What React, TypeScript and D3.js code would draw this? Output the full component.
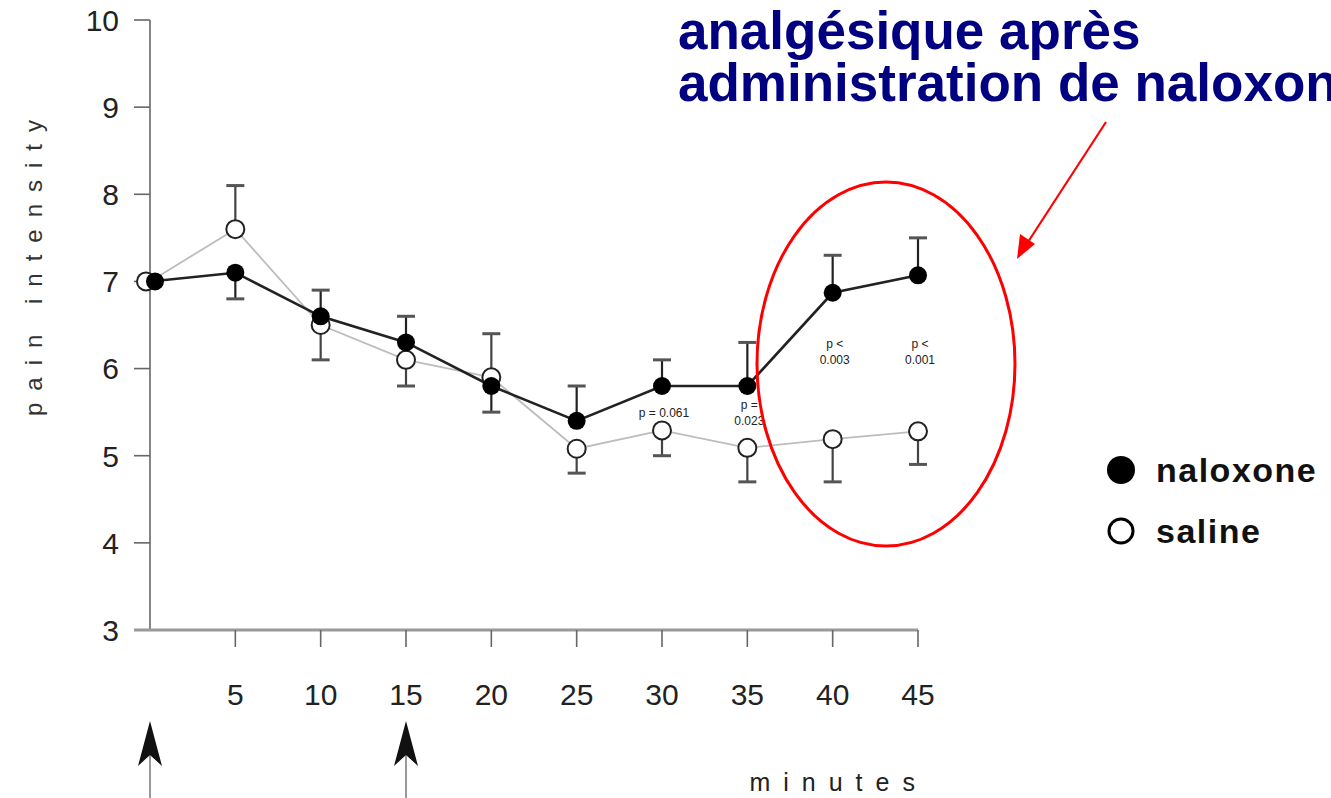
import React from "react";
import * as d3 from "d3";

// Time points (minutes) and mean pain-intensity scores
const minutes = [0, 5, 10, 15, 20, 25, 30, 35, 40, 45];
const naloxone = [7.0, 7.1, 6.6, 6.3, 5.8, 5.4, 5.8, 5.8, 6.87, 7.07];
const saline = [7.0, 7.6, 6.5, 6.1, 5.9, 5.08, 5.29, 5.09, 5.19, 5.28];
// End value of the one-sided error bar drawn for each point (null = none)
const naloxoneBar = [null, 6.8, 6.9, 6.6, 5.5, 5.8, 6.1, 6.3, 7.3, 7.5];
const salineBar = [null, 8.1, 6.1, 5.8, 6.4, 4.8, 5.0, 4.7, 4.7, 4.9];

const yTicks = [3, 4, 5, 6, 7, 8, 9, 10];
const xTicks = [5, 10, 15, 20, 25, 30, 35, 40, 45];
const injectionTimes = [0, 15];

// Significance notes placed over selected time points (v = value level of first line)
const pNotes = [
  { t: 30, lines: ["p = 0.061"], v: 5.44 },
  { t: 35, lines: ["p    =", "0.023"], v: 5.54 },
  { t: 40, lines: ["p    <", "0.003"], v: 6.24 },
  { t: 45, lines: ["p    <", "0.001"], v: 6.24 },
];

const titleLines = ["analgésique après", "administration de naloxone"];
const legendItems = [
  { label: "naloxone", filled: true },
  { label: "saline", filled: false },
];

const W = 1331;
const H = 798;
const SANS = "'Liberation Sans', Arial, Helvetica, sans-serif";

export default function App() {
  const x = d3.scaleLinear().domain([0, 45]).range([150, 918]);
  const y = d3.scaleLinear().domain([3, 10]).range([630, 20]);

  const line = d3
    .line<number>()
    .x((_, i) => x(minutes[i]))
    .y((d) => y(d));

  const bars = (vals: number[], ends: (number | null)[], color: string) =>
    vals.map((v, i) => {
      const e = ends[i];
      if (e == null) return null;
      const cx = x(minutes[i]);
      return (
        <g key={i}>
          <line x1={cx} x2={cx} y1={y(v)} y2={y(e)} stroke={color} strokeWidth={2.2} />
          <line x1={cx - 9} x2={cx + 9} y1={y(e)} y2={y(e)} stroke="#555" strokeWidth={3} />
        </g>
      );
    });

  return (
    <svg
      width={W}
      height={H}
      viewBox={`0 0 ${W} ${H}`}
      style={{ position: "absolute", left: 0, top: 0, background: "#fff" }}
    >
      <rect width={W} height={H} fill="#fff" />

      {/* title */}
      <g fill="#000080" fontFamily={SANS} fontWeight="bold" fontSize={53}>
        {titleLines.map((t, i) => (
          <text key={i} x={678} y={49 + i * 52}>
            {t}
          </text>
        ))}
      </g>

      {/* y axis */}
      <line x1={x(0)} x2={x(0)} y1={y(10)} y2={y(3)} stroke="#666" strokeWidth={1.6} />
      {yTicks.map((t) => (
        <g key={t}>
          <line x1={x(0) - 16} x2={x(0)} y1={y(t)} y2={y(t)} stroke="#666" strokeWidth={1.6} />
          <text
            x={119}
            y={y(t)}
            dy="0.36em"
            textAnchor="end"
            fontFamily={SANS}
            fontSize={30}
            fill="#222"
          >
            {t}
          </text>
        </g>
      ))}
      <text
        transform={`translate(42, 262) rotate(-90)`}
        textAnchor="middle"
        fontFamily={SANS}
        fontSize={24}
        letterSpacing={12}
        fill="#333"
      >
        pain intensity
      </text>

      {/* x axis */}
      <line x1={x(0) - 16} x2={x(45)} y1={y(3)} y2={y(3)} stroke="#999" strokeWidth={3} />
      {xTicks.map((t) => (
        <g key={t}>
          <line x1={x(t)} x2={x(t)} y1={y(3)} y2={y(3) + 17} stroke="#666" strokeWidth={1.6} />
          <text
            x={x(t)}
            y={705}
            textAnchor="middle"
            fontFamily={SANS}
            fontSize={30}
            fill="#222"
          >
            {t}
          </text>
        </g>
      ))}
      <text
        x={x(40) + 6}
        y={791}
        textAnchor="middle"
        fontFamily={SANS}
        fontSize={25}
        letterSpacing={13}
        fill="#222"
      >
        minutes
      </text>

      {/* injection arrows */}
      {injectionTimes.map((t) => {
        const cx = x(t);
        return (
          <g key={t}>
            <line x1={cx} x2={cx} y1={750} y2={798} stroke="#777" strokeWidth={1.5} />
            <path
              d={`M${cx},721 L${cx + 12},766 L${cx},755 L${cx - 12},766 Z`}
              fill="#111"
            />
          </g>
        );
      })}

      {/* saline series */}
      <path d={line(saline) ?? ""} fill="none" stroke="#bdbdbd" strokeWidth={1.8} />
      {bars(saline, salineBar, "#444")}

      {/* naloxone series */}
      <path d={line(naloxone) ?? ""} fill="none" stroke="#222" strokeWidth={2.6} />
      {bars(naloxone, naloxoneBar, "#222")}

      {saline.map((v, i) => (
        <circle
          key={i}
          cx={x(minutes[i]) - (i === 0 ? 4 : 0)}
          cy={y(v)}
          r={9}
          fill="#fff"
          stroke="#222"
          strokeWidth={2}
        />
      ))}
      {naloxone.map((v, i) => (
        <circle
          key={i}
          cx={x(minutes[i]) + (i === 0 ? 5 : 0)}
          cy={y(v)}
          r={9}
          fill="#000"
        />
      ))}

      {/* p-values */}
      {pNotes.map((n) => (
        <text
          key={n.t}
          y={y(n.v)}
          textAnchor="middle"
          fontFamily={SANS}
          fontSize={12}
          fill="#222"
        >
          {n.lines.map((l, j) => (
            <tspan key={j} x={x(n.t) + 2} dy={j === 0 ? 0 : 16}>
              {l}
            </tspan>
          ))}
        </text>
      ))}

      {/* highlight */}
      <ellipse cx={886} cy={364} rx={129} ry={182} fill="none" stroke="#f00" strokeWidth={3} />
      <line x1={1106} y1={122} x2={1028} y2={242} stroke="#f00" strokeWidth={2.2} />
      <path d="M1017,259 L1020,234 L1035,244 Z" fill="#f00" />

      {/* legend */}
      {legendItems.map((it, i) => (
        <g key={it.label} transform={`translate(1121, ${470 + i * 61})`}>
          <circle
            r={it.filled ? 14 : 12}
            fill={it.filled ? "#000" : "#fff"}
            stroke="#000"
            strokeWidth={it.filled ? 0 : 3}
          />
          <text
            x={35}
            y={0}
            dy="0.36em"
            fontFamily={SANS}
            fontWeight="bold"
            fontSize={34}
            letterSpacing={1.5}
            fill="#111"
          >
            {it.label}
          </text>
        </g>
      ))}
    </svg>
  );
}
